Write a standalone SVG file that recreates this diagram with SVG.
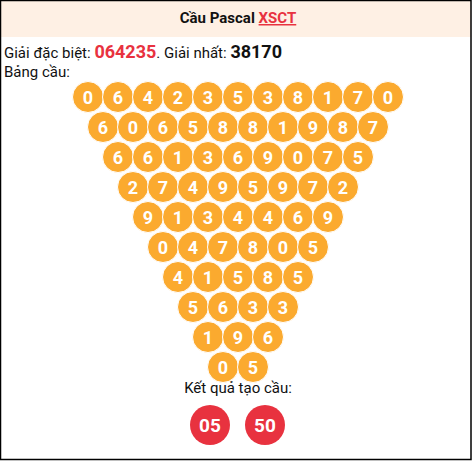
<svg xmlns="http://www.w3.org/2000/svg" width="472" height="461" viewBox="0 0 472 461">
<style>
.t{font-family:Roboto,"Liberation Sans",sans-serif;fill:#111}
.c circle{fill:#FBAA2F;stroke:#fff;stroke-width:1}
.c text{font-family:Roboto,"Liberation Sans",sans-serif;font-weight:bold;font-size:18px;fill:#fff;text-anchor:middle}
.r circle{fill:#E8323F}
.r text{font-family:Roboto,"Liberation Sans",sans-serif;font-weight:bold;font-size:19px;fill:#fff;text-anchor:middle}
</style>
<rect x="0" y="0" width="472" height="461" fill="#fff"/>
<rect x="1" y="1" width="470" height="36" fill="#FEF0E4"/>
<rect x="0.5" y="0.5" width="470.5" height="459" fill="none" stroke="#000" stroke-width="1.5"/>
<g id="header">
<text class="t" x="238" y="23" text-anchor="middle" font-size="15" font-weight="bold">Cầu Pascal <tspan fill="#E8323F" text-decoration="underline">XSCT</tspan></text>
</g>
<g id="info">
<text class="t" x="4" y="58" font-size="15">Giải đặc biệt: <tspan fill="#E8323F" font-weight="bold" font-size="18">064235</tspan>. Giải nhất: <tspan font-weight="bold" font-size="18">38170</tspan></text>
<text class="t" x="4" y="77" font-size="15">Bảng cầu:</text>
</g>
<g class="c" id="row1">
<g id="n1_1"><circle cx="88" cy="97" r="15.5"/><text x="88" y="103.5">0</text></g>
<g id="n1_2"><circle cx="118" cy="97" r="15.5"/><text x="118" y="103.5">6</text></g>
<g id="n1_3"><circle cx="148" cy="97" r="15.5"/><text x="148" y="103.5">4</text></g>
<g id="n1_4"><circle cx="178" cy="97" r="15.5"/><text x="178" y="103.5">2</text></g>
<g id="n1_5"><circle cx="208" cy="97" r="15.5"/><text x="208" y="103.5">3</text></g>
<g id="n1_6"><circle cx="238" cy="97" r="15.5"/><text x="238" y="103.5">5</text></g>
<g id="n1_7"><circle cx="268" cy="97" r="15.5"/><text x="268" y="103.5">3</text></g>
<g id="n1_8"><circle cx="298" cy="97" r="15.5"/><text x="298" y="103.5">8</text></g>
<g id="n1_9"><circle cx="328" cy="97" r="15.5"/><text x="328" y="103.5">1</text></g>
<g id="n1_10"><circle cx="358" cy="97" r="15.5"/><text x="358" y="103.5">7</text></g>
<g id="n1_11"><circle cx="388" cy="97" r="15.5"/><text x="388" y="103.5">0</text></g>
</g>
<g class="c" id="row2">
<g id="n2_1"><circle cx="103" cy="127" r="15.5"/><text x="103" y="133.5">6</text></g>
<g id="n2_2"><circle cx="133" cy="127" r="15.5"/><text x="133" y="133.5">0</text></g>
<g id="n2_3"><circle cx="163" cy="127" r="15.5"/><text x="163" y="133.5">6</text></g>
<g id="n2_4"><circle cx="193" cy="127" r="15.5"/><text x="193" y="133.5">5</text></g>
<g id="n2_5"><circle cx="223" cy="127" r="15.5"/><text x="223" y="133.5">8</text></g>
<g id="n2_6"><circle cx="253" cy="127" r="15.5"/><text x="253" y="133.5">8</text></g>
<g id="n2_7"><circle cx="283" cy="127" r="15.5"/><text x="283" y="133.5">1</text></g>
<g id="n2_8"><circle cx="313" cy="127" r="15.5"/><text x="313" y="133.5">9</text></g>
<g id="n2_9"><circle cx="343" cy="127" r="15.5"/><text x="343" y="133.5">8</text></g>
<g id="n2_10"><circle cx="373" cy="127" r="15.5"/><text x="373" y="133.5">7</text></g>
</g>
<g class="c" id="row3">
<g id="n3_1"><circle cx="118" cy="157" r="15.5"/><text x="118" y="163.5">6</text></g>
<g id="n3_2"><circle cx="148" cy="157" r="15.5"/><text x="148" y="163.5">6</text></g>
<g id="n3_3"><circle cx="178" cy="157" r="15.5"/><text x="178" y="163.5">1</text></g>
<g id="n3_4"><circle cx="208" cy="157" r="15.5"/><text x="208" y="163.5">3</text></g>
<g id="n3_5"><circle cx="238" cy="157" r="15.5"/><text x="238" y="163.5">6</text></g>
<g id="n3_6"><circle cx="268" cy="157" r="15.5"/><text x="268" y="163.5">9</text></g>
<g id="n3_7"><circle cx="298" cy="157" r="15.5"/><text x="298" y="163.5">0</text></g>
<g id="n3_8"><circle cx="328" cy="157" r="15.5"/><text x="328" y="163.5">7</text></g>
<g id="n3_9"><circle cx="358" cy="157" r="15.5"/><text x="358" y="163.5">5</text></g>
</g>
<g class="c" id="row4">
<g id="n4_1"><circle cx="133" cy="187" r="15.5"/><text x="133" y="193.5">2</text></g>
<g id="n4_2"><circle cx="163" cy="187" r="15.5"/><text x="163" y="193.5">7</text></g>
<g id="n4_3"><circle cx="193" cy="187" r="15.5"/><text x="193" y="193.5">4</text></g>
<g id="n4_4"><circle cx="223" cy="187" r="15.5"/><text x="223" y="193.5">9</text></g>
<g id="n4_5"><circle cx="253" cy="187" r="15.5"/><text x="253" y="193.5">5</text></g>
<g id="n4_6"><circle cx="283" cy="187" r="15.5"/><text x="283" y="193.5">9</text></g>
<g id="n4_7"><circle cx="313" cy="187" r="15.5"/><text x="313" y="193.5">7</text></g>
<g id="n4_8"><circle cx="343" cy="187" r="15.5"/><text x="343" y="193.5">2</text></g>
</g>
<g class="c" id="row5">
<g id="n5_1"><circle cx="148" cy="217" r="15.5"/><text x="148" y="223.5">9</text></g>
<g id="n5_2"><circle cx="178" cy="217" r="15.5"/><text x="178" y="223.5">1</text></g>
<g id="n5_3"><circle cx="208" cy="217" r="15.5"/><text x="208" y="223.5">3</text></g>
<g id="n5_4"><circle cx="238" cy="217" r="15.5"/><text x="238" y="223.5">4</text></g>
<g id="n5_5"><circle cx="268" cy="217" r="15.5"/><text x="268" y="223.5">4</text></g>
<g id="n5_6"><circle cx="298" cy="217" r="15.5"/><text x="298" y="223.5">6</text></g>
<g id="n5_7"><circle cx="328" cy="217" r="15.5"/><text x="328" y="223.5">9</text></g>
</g>
<g class="c" id="row6">
<g id="n6_1"><circle cx="163" cy="247" r="15.5"/><text x="163" y="253.5">0</text></g>
<g id="n6_2"><circle cx="193" cy="247" r="15.5"/><text x="193" y="253.5">4</text></g>
<g id="n6_3"><circle cx="223" cy="247" r="15.5"/><text x="223" y="253.5">7</text></g>
<g id="n6_4"><circle cx="253" cy="247" r="15.5"/><text x="253" y="253.5">8</text></g>
<g id="n6_5"><circle cx="283" cy="247" r="15.5"/><text x="283" y="253.5">0</text></g>
<g id="n6_6"><circle cx="313" cy="247" r="15.5"/><text x="313" y="253.5">5</text></g>
</g>
<g class="c" id="row7">
<g id="n7_1"><circle cx="178" cy="277" r="15.5"/><text x="178" y="283.5">4</text></g>
<g id="n7_2"><circle cx="208" cy="277" r="15.5"/><text x="208" y="283.5">1</text></g>
<g id="n7_3"><circle cx="238" cy="277" r="15.5"/><text x="238" y="283.5">5</text></g>
<g id="n7_4"><circle cx="268" cy="277" r="15.5"/><text x="268" y="283.5">8</text></g>
<g id="n7_5"><circle cx="298" cy="277" r="15.5"/><text x="298" y="283.5">5</text></g>
</g>
<g class="c" id="row8">
<g id="n8_1"><circle cx="193" cy="307" r="15.5"/><text x="193" y="313.5">5</text></g>
<g id="n8_2"><circle cx="223" cy="307" r="15.5"/><text x="223" y="313.5">6</text></g>
<g id="n8_3"><circle cx="253" cy="307" r="15.5"/><text x="253" y="313.5">3</text></g>
<g id="n8_4"><circle cx="283" cy="307" r="15.5"/><text x="283" y="313.5">3</text></g>
</g>
<g class="c" id="row9">
<g id="n9_1"><circle cx="208" cy="337" r="15.5"/><text x="208" y="343.5">1</text></g>
<g id="n9_2"><circle cx="238" cy="337" r="15.5"/><text x="238" y="343.5">9</text></g>
<g id="n9_3"><circle cx="268" cy="337" r="15.5"/><text x="268" y="343.5">6</text></g>
</g>
<g class="c" id="row10">
<g id="n10_1"><circle cx="223" cy="367" r="15.5"/><text x="223" y="373.5">0</text></g>
<g id="n10_2"><circle cx="253" cy="367" r="15.5"/><text x="253" y="373.5">5</text></g>
</g>
<g id="result">
<text class="t" x="238" y="393" text-anchor="middle" font-size="15">Kết quả tạo cầu:</text>
</g>
<g class="r" id="res1"><circle cx="210" cy="425" r="20"/><text x="210" y="432">05</text></g>
<g class="r" id="res2"><circle cx="265" cy="425" r="20"/><text x="265" y="432">50</text></g>
<g id="connectors"></g>
</svg>
